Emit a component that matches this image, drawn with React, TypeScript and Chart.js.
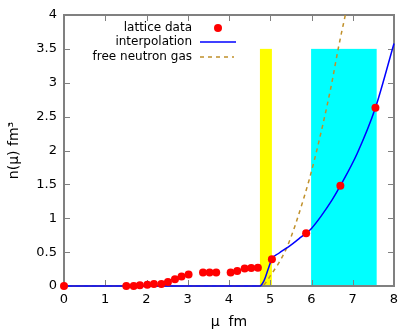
import React, { useEffect, useRef } from "react";
import { Chart, registerables } from "chart.js";

Chart.register(...registerables);

const latticeX = [0, 1.51, 1.69, 1.84, 2.02, 2.18, 2.36, 2.52, 2.69, 2.85, 3.02, 3.37, 3.53, 3.69, 4.04, 4.2, 4.38, 4.54, 4.7, 5.04, 5.87, 6.7, 7.55];
const latticeY = [0, 0, 0, 0.01, 0.02, 0.03, 0.03, 0.06, 0.1, 0.14, 0.17, 0.2, 0.2, 0.2, 0.2, 0.22, 0.26, 0.265, 0.27, 0.395, 0.78, 1.48, 2.63];

const interpX = [0, 4.74, 4.85, 4.95, 5.04, 5.2, 5.49, 5.7, 5.87, 6.0, 6.22, 6.5, 6.7, 7.11, 7.55, 8.0];
const interpY = [0, 0, 0.08, 0.25, 0.4, 0.48, 0.6, 0.7, 0.78, 0.85, 1.02, 1.27, 1.48, 1.96, 2.63, 3.58];

const gasX = [0, 4.79, 5.0, 5.41, 5.8, 6.07, 6.46, 6.66, 6.82];
const gasY = [0, 0, 0.15, 0.58, 1.27, 1.86, 2.9, 3.54, 4.0];

const bandStart = [4.75, 5.99];
const bandEnd = [5.04, 7.58];
const bandTop = [3.5, 3.5];
const bandColors = ["#ffff00", "#00ffff"];

const xTicks = [0, 1, 2, 3, 4, 5, 6, 7, 8];
const yTicks = [0, 0.5, 1, 1.5, 2, 2.5, 3, 3.5, 4];

const legendLabels = ["lattice data", "interpolation", "free neutron gas"];

const RED = "#ff0000";
const BLUE = "#0000ff";
const GOLD = "#c0902a";
const BORDER = "#808080";
const FONT = "DejaVu Sans, sans-serif";

export default function App() {
  const ref = useRef<HTMLCanvasElement | null>(null);
  useEffect(() => {
    document.body.style.margin = "0";
    const canvas = ref.current;
    if (!canvas) return;

    const bandsPlugin = {
      id: "bands",
      beforeDatasetsDraw(chart: any) {
        const { ctx, scales, chartArea: a } = chart;
        const xs = scales.x;
        const ys = scales.y;
        ctx.save();
        for (let i = 0; i < bandStart.length; i++) {
          const x0 = xs.getPixelForValue(bandStart[i]);
          const x1 = xs.getPixelForValue(bandEnd[i]);
          const y0 = ys.getPixelForValue(bandTop[i]);
          const y1 = ys.getPixelForValue(0);
          ctx.fillStyle = bandColors[i];
          ctx.fillRect(x0, y0, x1 - x0, y1 - y0);
        }
        // frame and inward ticks
        ctx.strokeStyle = BORDER;
        ctx.lineWidth = 1;
        const tl = 6;
        ctx.beginPath();
        for (const v of xTicks) {
          const px = Math.round(xs.getPixelForValue(v)) + 0.5;
          ctx.moveTo(px, a.bottom);
          ctx.lineTo(px, a.bottom - tl);
          ctx.moveTo(px, a.top);
          ctx.lineTo(px, a.top + tl);
        }
        for (const v of yTicks) {
          const py = Math.round(ys.getPixelForValue(v)) + 0.5;
          ctx.moveTo(a.left, py);
          ctx.lineTo(a.left + tl, py);
          ctx.moveTo(a.right, py);
          ctx.lineTo(a.right - tl, py);
        }
        ctx.stroke();
        ctx.lineWidth = 2;
        ctx.strokeRect(a.left, a.top, a.right - a.left, a.bottom - a.top);
        ctx.restore();
      },
    };

    const legendPlugin = {
      id: "gpLegend",
      afterDraw(chart: any) {
        const { ctx } = chart;
        ctx.save();
        ctx.font = `12px ${FONT}`;
        ctx.fillStyle = "#000";
        ctx.textAlign = "right";
        ctx.textBaseline = "middle";
        const textRight = 192;
        const rows = [28, 42, 57];
        legendLabels.forEach((t, i) => ctx.fillText(t, textRight, rows[i]));
        ctx.fillStyle = RED;
        ctx.beginPath();
        ctx.arc(218, rows[0], 4, 0, Math.PI * 2);
        ctx.fill();
        ctx.strokeStyle = BLUE;
        ctx.lineWidth = 1.5;
        ctx.beginPath();
        ctx.moveTo(200, rows[1]);
        ctx.lineTo(236, rows[1]);
        ctx.stroke();
        ctx.strokeStyle = GOLD;
        ctx.setLineDash([4, 4]);
        ctx.beginPath();
        ctx.moveTo(200, rows[2]);
        ctx.lineTo(234, rows[2]);
        ctx.stroke();
        ctx.restore();
      },
    };

    const chart = new Chart(canvas, {
      type: "scatter",
      data: {
        datasets: [
          {
            label: legendLabels[0],
            data: latticeX.map((x, i) => ({ x, y: latticeY[i] })),
            backgroundColor: RED,
            borderColor: RED,
            pointRadius: 4,
            pointBorderWidth: 0,
            showLine: false,
            clip: false,
          },
          {
            label: legendLabels[1],
            data: interpX.map((x, i) => ({ x, y: interpY[i] })),
            borderColor: BLUE,
            borderWidth: 1.5,
            pointRadius: 0,
            showLine: true,
            clip: false,
            cubicInterpolationMode: "monotone",
          },
          {
            label: legendLabels[2],
            data: gasX.map((x, i) => ({ x, y: gasY[i] })),
            borderColor: GOLD,
            borderWidth: 1.5,
            borderDash: [4, 4],
            pointRadius: 0,
            showLine: true,
            clip: false,
            cubicInterpolationMode: "monotone",
          },
        ],
      },
      options: {
        animation: false,
        responsive: false,
        devicePixelRatio: 1,
        layout: { padding: { left: 0, right: 21, top: 15, bottom: 0 } },
        plugins: { legend: { display: false }, tooltip: { enabled: false } },
        scales: {
          x: {
            type: "linear",
            min: 0,
            max: 8,
            afterFit(s: any) {
              s.height = 45;
            },
            afterBuildTicks(s: any) {
              s.ticks = xTicks.map((v) => ({ value: v }));
            },
            grid: { display: false, drawTicks: false },
            border: { display: false },
            ticks: {
              padding: 6,
              color: "#000",
              font: { family: FONT, size: 13 },
            },
            title: {
              display: true,
              text: "μ  fm",
              color: "#000",
              font: { family: FONT, size: 14 },
              padding: { top: 2, bottom: 0 },
            },
          },
          y: {
            type: "linear",
            min: 0,
            max: 4,
            afterFit(s: any) {
              s.width = 64;
            },
            afterBuildTicks(s: any) {
              s.ticks = yTicks.map((v) => ({ value: v }));
            },
            grid: { display: false, drawTicks: false },
            border: { display: false },
            ticks: {
              padding: 7,
              color: "#000",
              font: { family: FONT, size: 13 },
              callback: (v: any) => String(v),
            },
            title: {
              display: true,
              text: "n(μ) fm³",
              color: "#000",
              font: { family: FONT, size: 14 },
              padding: { top: 6, bottom: 0 },
            },
          },
        },
      },
      plugins: [bandsPlugin, legendPlugin],
    } as any);
    return () => chart.destroy();
  }, []);
  return (
    <div style={{ width: 415, height: 331 }}>
      <canvas ref={ref} width={415} height={331} style={{ display: "block" }} />
    </div>
  );
}
